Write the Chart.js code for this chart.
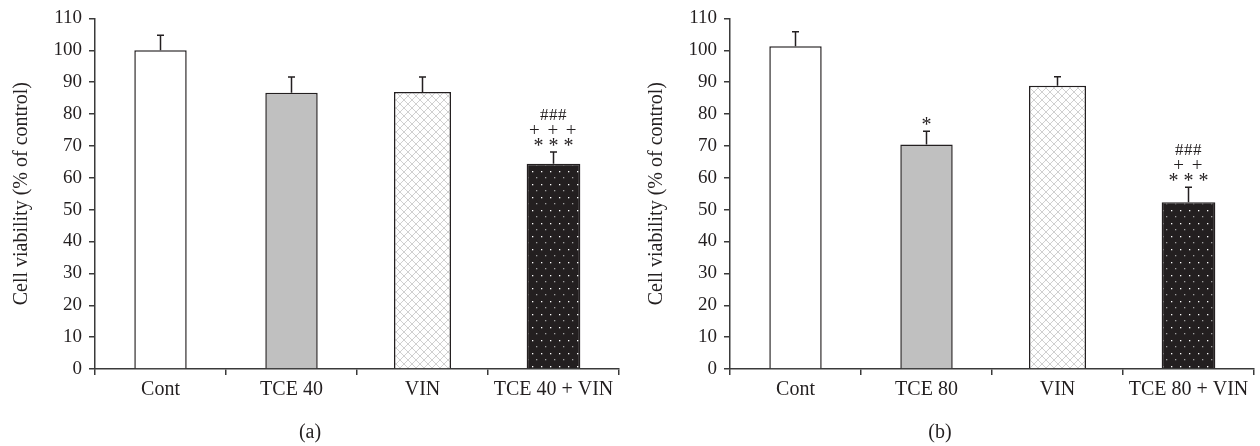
<!DOCTYPE html>
<html>
<head>
<meta charset="utf-8">
<script src="https://cdn.jsdelivr.net/npm/chart.js@4.4.1/dist/chart.umd.min.js"></script>
<style>
  html, body { margin: 0; padding: 0; background: #ffffff; }
  body { width: 1260px; height: 446px; position: relative; overflow: hidden; }
  .panel { position: absolute; top: 0; width: 630px; height: 446px; }
  #panelA { left: 0; }
  #panelB { left: 630px; }
</style>
</head>
<body>
<div class="panel" id="panelA"><canvas id="chartA" width="630" height="446"></canvas></div>
<div class="panel" id="panelB"><canvas id="chartB" width="630" height="446"></canvas></div>
<script>
// ---------------- DATA ----------------
const categoriesA = ["Cont", "TCE 40", "VIN", "TCE 40 + VIN"];
const valuesA = [100.0, 86.7, 86.9, 64.4];
const errorsA = [4.7, 4.9, 4.7, 3.7];
const marksA = [[], [], [], ["###", "+ + +", "* * *"]];

const categoriesB = ["Cont", "TCE 80", "VIN", "TCE 80 + VIN"];
const valuesB = [101.3, 70.4, 88.9, 52.3];
const errorsB = [4.5, 4.2, 2.8, 4.7];
const marksB = [[], ["*"], [], ["###", "+ +", "* * *"]];

const yMin = 0, yMax = 110, yStep = 10;
const yTitle = "Cell viability (% of control)";
const panelLabels = ["(a)", "(b)"];

// ---------------- STYLE ----------------
const FONT = "'Liberation Serif', 'Times New Roman', 'DejaVu Serif', serif";
const INK = "#231f20";
const AXIS = "#3a3a3a";
const barWidthFrac = [0.40, 0.40, 0.435, 0.41];

function makeHatch() {
  const c = document.createElement('canvas');
  c.width = 8; c.height = 8;
  const g = c.getContext('2d');
  g.fillStyle = '#ffffff'; g.fillRect(0, 0, 8, 8);
  g.strokeStyle = '#c4c4c4'; g.lineWidth = 0.8;
  g.beginPath();
  g.moveTo(0, 0); g.lineTo(8, 8);
  g.moveTo(8, 0); g.lineTo(0, 8);
  g.stroke();
  return c;
}
function makeDots() {
  const c = document.createElement('canvas');
  c.width = 9; c.height = 13;
  const g = c.getContext('2d');
  g.fillStyle = '#231f20'; g.fillRect(0, 0, 9, 13);
  g.fillStyle = '#ffffff'; g.fillRect(1, 2, 1.3, 1.3);
  g.fillStyle = '#a0a0a0'; g.fillRect(5, 8, 1.3, 1.3);
  return c;
}

function buildChart(canvasId, cats, vals, errs, marks, label, yAxisWidth, padRight, padTop, titlePad) {
  const ctx = document.getElementById(canvasId).getContext('2d');
  const hatch = ctx.createPattern(makeHatch(), 'repeat');
  const dots = ctx.createPattern(makeDots(), 'repeat');
  const fills = ['#ffffff', '#c0c0c0', hatch, dots];

  const datasets = vals.map((v, i) => ({
    data: vals.map((w, j) => (j === i ? w : null)),
    backgroundColor: fills[i],
    borderColor: INK,
    borderWidth: 1.5,
    borderSkipped: 'bottom',
    barPercentage: barWidthFrac[i],
    categoryPercentage: 1.0,
    grouped: false,
    skipNull: true,
    errIndex: i
  }));

  const errorBars = {
    id: 'errorBars',
    afterDatasetsDraw(chart) {
      const c = chart.ctx;
      const ys = chart.scales.y;
      c.save();
      c.strokeStyle = INK;
      c.lineWidth = 1.5;
      chart.data.datasets.forEach((ds, di) => {
        const meta = chart.getDatasetMeta(di);
        const i = ds.errIndex;
        const el = meta.data[i];
        if (!el) return;
        const x = el.x;
        const yBar = ys.getPixelForValue(vals[i]);
        const yTop = ys.getPixelForValue(vals[i] + errs[i]);
        c.beginPath();
        c.moveTo(x, yBar);
        c.lineTo(x, yTop);
        c.moveTo(x - 3.5, yTop);
        c.lineTo(x + 3.5, yTop);
        c.stroke();
        // significance marks
        const lines = marks[i];
        const offsets = [10, 23, 37.5];
        c.fillStyle = INK;
        c.textAlign = 'center';
        c.textBaseline = 'alphabetic';
        for (let k = 0; k < lines.length; k++) {
          const txt = lines[lines.length - 1 - k];
          let size = 19, ls = '0px';
          if (txt.indexOf('#') >= 0) { size = 17; ls = '0.5px'; }
          else if (txt.indexOf('+') >= 0) { size = 19; ls = '1.5px'; }
          else { size = 20; ls = '0px'; }
          c.font = size + 'px ' + FONT;
          try { c.letterSpacing = ls; } catch (e) {}
          const m = c.measureText(txt);
          const cy = yTop - offsets[k];
          const base = cy + (m.actualBoundingBoxAscent - m.actualBoundingBoxDescent) / 2;
          c.fillText(txt, x, base);
        }
        try { c.letterSpacing = '0px'; } catch (e) {}
      });
      c.restore();
    },
    afterDraw(chart) {
      const c = chart.ctx;
      c.save();
      c.fillStyle = INK;
      c.font = '20px ' + FONT;
      c.textAlign = 'center';
      c.textBaseline = 'middle';
      c.fillText(label, 310, 433);
      c.restore();
    }
  };

  return new Chart(ctx, {
    type: 'bar',
    data: { labels: cats, datasets },
    options: {
      responsive: false,
      animation: false,
      devicePixelRatio: 1,
      layout: { padding: { top: padTop, right: padRight, bottom: 0, left: 0 } },
      plugins: { legend: { display: false }, tooltip: { enabled: false }, title: { display: false } },
      scales: {
        x: {
          offset: true,
          grid: { display: true, drawOnChartArea: false, drawTicks: true, tickLength: 6, color: AXIS, lineWidth: 1.5, offset: true },
          border: { display: true, color: AXIS, width: 1.5 },
          ticks: { color: INK, font: { family: FONT, size: 20 }, padding: 3, maxRotation: 0, autoSkip: false },
          afterFit(scale) { scale.height = 77; }
        },
        y: {
          min: yMin, max: yMax,
          grid: { display: true, drawOnChartArea: false, drawTicks: true, tickLength: 6, color: AXIS, lineWidth: 1.5 },
          border: { display: true, color: AXIS, width: 1.5 },
          ticks: { stepSize: yStep, color: INK, font: { family: FONT, size: 19 }, padding: 7 },
          title: { display: true, text: yTitle, color: INK, font: { family: FONT, size: 20 }, padding: { top: titlePad, bottom: 0 } },
          afterFit(scale) { scale.width = yAxisWidth; }
        }
      }
    },
    plugins: [errorBars]
  });
}

buildChart('chartA', categoriesA, valuesA, errorsA, marksA, panelLabels[0], 95, 11, 14.5, 10);
buildChart('chartB', categoriesB, valuesB, errorsB, marksB, panelLabels[1], 100, 6, 14.3, 15);
</script>
</body>
</html>
